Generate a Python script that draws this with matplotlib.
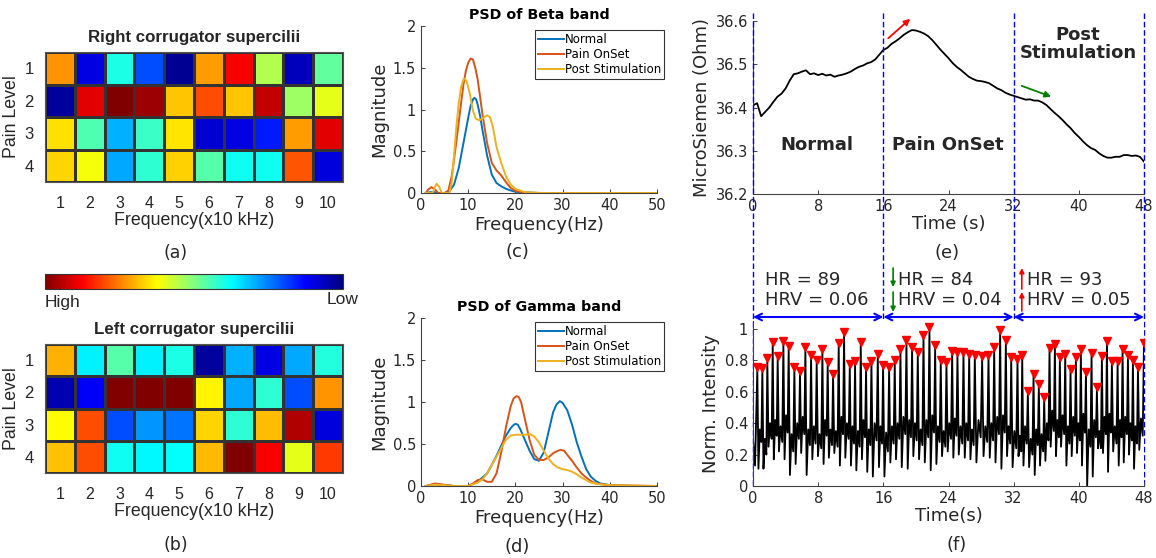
import numpy as np
import matplotlib
matplotlib.use('Agg')
import matplotlib.pyplot as plt
from matplotlib.cm import ScalarMappable
from matplotlib.colors import Normalize, LinearSegmentedColormap
from matplotlib.transforms import blended_transform_factory

# ---- heatmaps (position on jet scale: 1 = High / dark red, 0 = Low / dark blue)
right_vals = [
    [0.73, 0.10, 0.40, 0.20, 0.02, 0.72, 0.88, 0.55, 0.06, 0.47],
    [0.03, 0.90, 1.00, 0.97, 0.68, 0.80, 0.68, 0.93, 0.53, 0.60],
    [0.655, 0.45, 0.30, 0.43, 0.65, 0.08, 0.10, 0.15, 0.72, 0.90],
    [0.665, 0.615, 0.29, 0.42, 0.67, 0.46, 0.39, 0.39, 0.79, 0.09],
]
left_vals = [
    [0.70, 0.36, 0.46, 0.36, 0.40, 0.03, 0.30, 0.10, 0.29, 0.41],
    [0.05, 0.12, 1.00, 1.00, 1.00, 0.635, 0.29, 0.42, 0.20, 0.73],
    [0.625, 0.80, 0.20, 0.27, 0.24, 0.665, 0.42, 0.69, 0.95, 0.09],
    [0.685, 0.80, 0.39, 0.37, 0.375, 0.695, 1.00, 0.88, 0.60, 0.82],
]
freq_labels = ['1', '2', '3', '4', '5', '6', '7', '8', '9', '10']
pain_labels = ['1', '2', '3', '4']

# ---- PSD curves
beta_normal_f = [1, 2, 3, 4, 5, 6, 7, 8, 9, 10, 10.5, 11, 11.3, 11.7, 12, 12.5, 13, 14, 15, 16, 17, 18, 19, 20, 22, 25, 50]
beta_normal_v = [0, 0.01, 0.01, 0, 0, 0.02, 0.1, 0.3, 0.6, 0.9, 1.04, 1.12, 1.14, 1.12, 1.06, 0.93, 0.76, 0.45, 0.22, 0.12, 0.08, 0.05, 0.03, 0.015, 0.005, 0, 0]
beta_pain_f = [1, 1.5, 2.2, 3, 3.6, 5, 5.8, 6.5, 7, 7.5, 8, 8.5, 9, 9.5, 10, 10.5, 11, 11.5, 12, 12.5, 13, 14, 15, 16, 17, 18, 19, 20, 22, 26, 50]
beta_pain_v = [0, 0.04, 0.07, 0.04, 0, 0, 0.03, 0.2, 0.4, 0.62, 0.85, 1.08, 1.3, 1.46, 1.56, 1.61, 1.6, 1.5, 1.36, 1.16, 0.95, 0.6, 0.36, 0.27, 0.21, 0.13, 0.06, 0.025, 0.005, 0, 0]
beta_post_f = [1, 2.5, 3, 3.3, 3.8, 4.4, 6, 6.5, 7, 7.5, 8, 8.5, 9, 9.3, 9.7, 10.3, 11, 11.6, 12.4, 13.2, 14, 14.6, 15.2, 16, 17, 18, 19, 20, 22, 25, 50]
beta_post_v = [0, 0, 0.08, 0.11, 0.08, 0, 0, 0.12, 0.45, 0.8, 1.08, 1.27, 1.36, 1.37, 1.33, 1.2, 0.99, 0.89, 0.87, 0.9, 0.93, 0.91, 0.8, 0.55, 0.36, 0.2, 0.1, 0.05, 0.01, 0, 0]

gamma_normal_f = [1, 3, 5, 7, 10, 12, 14, 15, 16, 17, 18, 19, 19.5, 20, 20.5, 21, 22, 23, 24, 25, 26, 27, 28, 28.7, 29.4, 30, 31, 32, 33, 34, 35, 36, 37, 38, 40, 45, 50]
gamma_normal_v = [0, 0.02, 0.01, 0, 0, 0.05, 0.15, 0.25, 0.36, 0.48, 0.6, 0.69, 0.72, 0.74, 0.73, 0.68, 0.55, 0.42, 0.32, 0.3, 0.4, 0.64, 0.88, 0.97, 1.01, 0.99, 0.9, 0.73, 0.52, 0.35, 0.2, 0.11, 0.06, 0.03, 0.01, 0, 0]
gamma_pain_f = [1, 3, 5, 7, 10, 11, 12, 13, 14, 15, 16, 17, 18, 19, 19.6, 20.2, 20.7, 21.2, 22, 23, 24, 25, 26, 27, 28, 29, 29.6, 30.3, 31, 32, 33, 34, 35, 36, 37, 40, 45, 50]
gamma_pain_v = [0, 0.03, 0.015, 0, 0, 0.03, 0.07, 0.08, 0.05, 0.05, 0.15, 0.4, 0.7, 0.95, 1.04, 1.07, 1.06, 1.0, 0.8, 0.55, 0.37, 0.31, 0.31, 0.34, 0.39, 0.42, 0.43, 0.42, 0.37, 0.3, 0.22, 0.15, 0.1, 0.06, 0.03, 0.01, 0.005, 0]
gamma_post_f = [1, 3, 5, 7, 10, 12, 13, 14, 15, 16, 17, 18, 19, 20, 21, 22, 23, 24, 25, 26, 27, 28, 29, 30, 31, 32, 33, 34, 35, 36, 37, 38, 40, 45, 50]
gamma_post_v = [0, 0.015, 0.01, 0, 0, 0.04, 0.08, 0.15, 0.25, 0.35, 0.45, 0.55, 0.6, 0.61, 0.61, 0.61, 0.62, 0.59, 0.52, 0.42, 0.33, 0.26, 0.22, 0.2, 0.19, 0.17, 0.14, 0.1, 0.07, 0.04, 0.03, 0.02, 0.01, 0.005, 0]
psd_labels = ['Normal', 'Pain OnSet', 'Post Stimulation']

# ---- skin response (every 0.5 s)
gsr_t = np.arange(0, 48.5, 0.5)
gsr_v = [36.405, 36.41, 36.38, 36.39, 36.40, 36.413, 36.425, 36.432, 36.444, 36.462,
         36.477, 36.479, 36.483, 36.486, 36.477, 36.479, 36.475, 36.478, 36.474, 36.476,
         36.471, 36.474, 36.476, 36.479, 36.483, 36.489, 36.494, 36.497, 36.502, 36.505,
         36.511, 36.522, 36.533, 36.538, 36.547, 36.553, 36.56, 36.568, 36.574, 36.579,
         36.578, 36.575, 36.571, 36.565, 36.556, 36.545, 36.534, 36.524, 36.514, 36.503,
         36.494, 36.487, 36.479, 36.471, 36.466, 36.462, 36.461, 36.459, 36.456, 36.450,
         36.444, 36.440, 36.434, 36.430, 36.427, 36.424, 36.421, 36.418, 36.419, 36.416,
         36.416, 36.412, 36.406, 36.397, 36.388, 36.380, 36.371, 36.361, 36.352, 36.341,
         36.332, 36.322, 36.313, 36.306, 36.302, 36.294, 36.288, 36.284, 36.284, 36.286,
         36.286, 36.290, 36.29, 36.288, 36.289, 36.286, 36.275]
phase_names = ['Normal', 'Pain OnSet', 'Post\nStimulation']
phase_edges = [0, 16, 32, 48]

# ---- PPG beats
peak_t = [0.53, 1.15, 1.76, 2.42, 3.03, 3.73, 4.38, 5.08, 5.77, 6.43, 7.13, 7.82, 8.52, 9.17, 9.83, 10.52,
          11.18, 11.88, 12.53, 13.23, 13.88, 14.54, 15.32, 15.97,
          16.71, 17.40, 18.10, 18.84, 19.53, 20.23, 20.93, 21.66, 22.36, 23.05, 23.75, 24.45, 25.10,
          25.84, 26.54, 27.23, 28.13, 28.91, 29.61, 30.34, 31.04, 31.70,
          32.47, 33.05, 33.74, 34.44, 35.09, 35.75, 36.40, 37.06, 37.67, 38.33, 38.98, 39.64, 40.25,
          40.87, 41.56, 42.22, 42.83, 43.45, 44.06, 44.76, 45.37, 46.03, 46.64, 47.26, 47.99]
peak_v = [0.743, 0.739, 0.803, 0.904, 0.813, 0.909, 0.877, 0.743, 0.718, 0.875, 0.820, 0.788, 0.860, 0.777,
          0.701, 0.896, 0.966, 0.766, 0.786, 0.902, 0.743, 0.786, 0.830, 0.760,
          0.743, 0.788, 0.862, 0.917, 0.875, 0.839, 0.951, 0.998, 0.885, 0.788, 0.777, 0.849, 0.839,
          0.841, 0.828, 0.824, 0.813, 0.820, 0.873, 0.983, 0.915, 0.807,
          0.798, 0.822, 0.594, 0.703, 0.637, 0.552, 0.866, 0.892, 0.807, 0.828, 0.732, 0.811, 0.858,
          0.715, 0.832, 0.616, 0.817, 0.911, 0.781, 0.781, 0.862, 0.820, 0.788, 0.745, 0.898]
trough_v = [0.11, 0.11, 0.25, 0.17, 0.22, 0.17, 0.07, 0.14, 0.21, 0.07, 0.17, 0.19, 0.14, 0.18, 0.21, 0.13,
            0.18, 0.13, 0.10, 0.17, 0.09, 0.06, 0.12, 0.06,
            0.15, 0.17, 0.12, 0.11, 0.19, 0.17, 0.15, 0.10, 0.14, 0.19, 0.22, 0.18, 0.20, 0.18, 0.17,
            0.15, 0.19, 0.18, 0.15, 0.11, 0.19, 0.12,
            0.19, 0.13, 0.12, 0.07, 0.13, 0.16, 0.25, 0.19, 0.25, 0.13, 0.19, 0.21, 0.13, 0.0, 0.06,
            0.24, 0.21, 0.09, 0.22, 0.13, 0.15, 0.20, 0.11, 0.23]
bump_v = [0.36, 0.30, 0.40, 0.42, 0.38, 0.45, 0.33, 0.40, 0.44, 0.36, 0.38, 0.33, 0.42, 0.36, 0.35, 0.44,
          0.40, 0.38, 0.35, 0.42, 0.36, 0.40, 0.38, 0.34,
          0.38, 0.40, 0.44, 0.42, 0.40, 0.36, 0.42, 0.45, 0.38, 0.35, 0.40, 0.43, 0.38, 0.40, 0.36,
          0.42, 0.38, 0.40, 0.44, 0.45, 0.38, 0.35,
          0.32, 0.38, 0.30, 0.36, 0.33, 0.40, 0.48, 0.42, 0.45, 0.38, 0.44, 0.40, 0.46, 0.36, 0.42,
          0.35, 0.44, 0.46, 0.38, 0.42, 0.44, 0.40, 0.38, 0.43]
dip_v = [0.28, 0.20, 0.30, 0.32, 0.28, 0.34, 0.22, 0.30, 0.33, 0.26, 0.27, 0.24, 0.32, 0.26, 0.25, 0.33,
         0.30, 0.27, 0.25, 0.31, 0.26, 0.29, 0.27, 0.22,
         0.27, 0.30, 0.33, 0.31, 0.29, 0.26, 0.31, 0.34, 0.28, 0.25, 0.30, 0.32, 0.27, 0.29, 0.26,
         0.31, 0.28, 0.29, 0.33, 0.34, 0.27, 0.24,
         0.22, 0.27, 0.20, 0.26, 0.22, 0.29, 0.35, 0.31, 0.33, 0.27, 0.32, 0.29, 0.34, 0.25, 0.31,
         0.24, 0.33, 0.34, 0.27, 0.31, 0.33, 0.29, 0.27, 0.32]
lead_t = [0.0, 0.25]
lead_v = [0.30, 0.13]
hr_text = ['HR = 89\nHRV = 0.06', 'HR = 84\nHRV = 0.04', 'HR = 93\nHRV = 0.05']

W, H = 1156, 558
fig = plt.figure(figsize=(W / 100, H / 100), dpi=100)
fig.patch.set_facecolor('white')

TXT = '#262626'
SP = '#404040'
ARIAL = 'Liberation Sans'

# MATLAB-style jet
mjet = LinearSegmentedColormap.from_list(
    'mjet', [(0, (0, 0, 0.5)), (0.125, (0, 0, 1)), (0.375, (0, 1, 1)),
             (0.625, (1, 1, 0)), (0.875, (1, 0, 0)), (1, (0.5, 0, 0))])


def px_axes(left, top, right, bottom):
    return fig.add_axes([left / W, 1 - bottom / H, (right - left) / W, (bottom - top) / H])


def fy(py):
    return 1 - py / H


def style_open(ax, fs=10.5):
    for s in ['top', 'right']:
        ax.spines[s].set_visible(False)
    for s in ['left', 'bottom']:
        ax.spines[s].set_color(SP)
        ax.spines[s].set_linewidth(0.8)
    ax.tick_params(direction='in', length=3, width=0.7, colors=SP, labelcolor=TXT, labelsize=fs)


# ---------------- heatmaps
def draw_heat(ax, vals, title):
    ax.pcolormesh(np.arange(0.5, 11), np.arange(0.5, 5), np.array(vals), cmap=mjet,
                  vmin=0, vmax=1, edgecolors='#333333', linewidth=0.8)
    ax.set_xlim(0.5, 10.5)
    ax.set_ylim(4.5, 0.5)
    ax.set_xticks(range(1, 11))
    ax.set_xticklabels(freq_labels, family=ARIAL, fontsize=11.5, color=TXT)
    ax.set_yticks(range(1, 5))
    ax.set_yticklabels(pain_labels, family=ARIAL, fontsize=12, color=TXT)
    ax.tick_params(length=0, pad=10)
    ax.tick_params(axis='y', pad=8)
    for s in ax.spines.values():
        s.set_color('#555555')
    ax.set_title(title, family=ARIAL, fontweight='bold', fontsize=12.2, color=TXT, pad=7)
    ax.set_xlabel('Frequency(x10 kHz)', family=ARIAL, fontsize=12.8, color=TXT, labelpad=1)
    ax.set_ylabel('Pain Level', family=ARIAL, fontsize=12.8, color=TXT, labelpad=3)


ax_a = px_axes(45, 52, 343, 182)
draw_heat(ax_a, right_vals, 'Right corrugator supercilii')
ax_b = px_axes(45, 344, 343, 473)
draw_heat(ax_b, left_vals, 'Left corrugator supercilii')

cax = px_axes(45, 274, 343, 289)
cb = fig.colorbar(ScalarMappable(Normalize(0, 1), mjet), cax=cax, orientation='horizontal')
cb.set_ticks([])
cax.invert_xaxis()
cb.outline.set_edgecolor('#333333')
fig.text(45 / W, fy(302), 'High', family=ARIAL, fontsize=12.5, color=TXT, ha='left', va='center')
fig.text(358 / W, fy(300), 'Low', family=ARIAL, fontsize=12.5, color=TXT, ha='right', va='center')

fig.text(176 / W, fy(253), '(a)', fontsize=12.5, color=TXT, ha='center', va='center')
fig.text(176 / W, fy(545), '(b)', fontsize=12.5, color=TXT, ha='center', va='center')

# ---------------- PSD panels
psd_colors = ['#0072BD', '#D95319', '#EDB120']


def draw_psd(ax, curves, title):
    for (f, v), c, lab in zip(curves, psd_colors, psd_labels):
        ax.plot(f, v, color=c, lw=1.4, label=lab)
    ax.set_xlim(0, 50)
    ax.set_ylim(0, 2)
    ax.set_xticks([0, 10, 20, 30, 40, 50])
    ax.set_yticks([0, 0.5, 1, 1.5, 2])
    ax.set_yticklabels(['0', '0.5', '1', '1.5', '2'])
    style_open(ax, fs=10.5)
    ax.set_title(title, fontweight='bold', fontsize=10.3, color='black', pad=5)
    ax.set_xlabel('Frequency(Hz)', fontsize=13, color=TXT, labelpad=2)
    ax.set_ylabel('Magnitude', fontsize=13, color=TXT, labelpad=3)
    leg = ax.legend(loc='upper right', bbox_to_anchor=(1.03, 0.975), fontsize=8.5, frameon=True,
                    fancybox=False, edgecolor='black', borderaxespad=0, handlelength=2.2,
                    handletextpad=0.1, labelspacing=0.15, borderpad=0.25)
    leg.get_frame().set_linewidth(0.8)


ax_c = px_axes(421, 26, 657, 193)
draw_psd(ax_c, [(beta_normal_f, beta_normal_v), (beta_pain_f, beta_pain_v), (beta_post_f, beta_post_v)],
         'PSD of Beta band')
ax_d = px_axes(421, 318, 657, 486)
draw_psd(ax_d, [(gamma_normal_f, gamma_normal_v), (gamma_pain_f, gamma_pain_v), (gamma_post_f, gamma_post_v)],
         'PSD of Gamma band')
fig.text(517 / W, fy(252), '(c)', fontsize=13, color=TXT, ha='center', va='center')
fig.text(517 / W, fy(547), '(d)', fontsize=13, color=TXT, ha='center', va='center')

# ---------------- (e) skin response
ax_e = px_axes(753, 21, 1144, 194)
ax_e.plot(gsr_t, gsr_v, color='black', lw=1.3)
ax_e.set_xlim(0, 48)
ax_e.set_ylim(36.2, 36.6)
ax_e.set_xticks([0, 8, 16, 24, 32, 40, 48])
ax_e.set_yticks([36.2, 36.3, 36.4, 36.5, 36.6])
style_open(ax_e, fs=10.5)
ax_e.set_xlabel('Time (s)', fontsize=13, color=TXT, labelpad=1)
ax_e.set_ylabel('MicroSiemen (Ohm)', fontsize=13, color=TXT, labelpad=3)
for name, x0, x1, yy in zip(phase_names, phase_edges[:-1], phase_edges[1:], [36.313, 36.313, 36.547]):
    ax_e.text((x0 + x1) / 2 - 0.1, yy, name, fontsize=13, fontweight='bold', color=TXT,
              ha='center', va='center', linespacing=1.0)
ax_e.annotate('', xy=(19.3, 36.605), xytext=(16.6, 36.56), annotation_clip=False,
              arrowprops=dict(arrowstyle='-|>', color='red', lw=1.3, mutation_scale=9, shrinkA=0, shrinkB=0))
ax_e.annotate('', xy=(36.6, 36.425), xytext=(33.0, 36.45), annotation_clip=False,
              arrowprops=dict(arrowstyle='-|>', color='green', lw=1.3, mutation_scale=9, shrinkA=0, shrinkB=0))
fig.text(947 / W, fy(253), '(e)', fontsize=13, color=TXT, ha='center', va='center')

# ---------------- (f) PPG
ppg_t = list(lead_t)
ppg_v = list(lead_v)
for i in range(len(peak_t)):
    ppg_t.append(peak_t[i])
    ppg_v.append(peak_v[i])
    if i < len(peak_t) - 1:
        dt = peak_t[i + 1] - peak_t[i]
        for frac, val in zip([0.22, 0.5, 0.8], [trough_v[i], bump_v[i], dip_v[i]]):
            ppg_t.append(peak_t[i] + frac * dt)
            ppg_v.append(val)

ax_f = px_axes(753, 321, 1144, 486)
ax_f.plot(ppg_t, ppg_v, color='black', lw=1.3)
ax_f.plot(peak_t, np.array(peak_v) + 0.012, 'v', color='red', ms=6, mec='red')
ax_f.set_xlim(0, 48)
ax_f.set_ylim(0, 1.05)
ax_f.set_xticks([0, 8, 16, 24, 32, 40, 48])
ax_f.set_yticks([0, 0.2, 0.4, 0.6, 0.8, 1])
ax_f.set_yticklabels(['0', '0.2', '0.4', '0.6', '0.8', '1'])
style_open(ax_f, fs=10.5)
ax_f.set_xlabel('Time(s)', fontsize=13, color=TXT, labelpad=1)
ax_f.set_ylabel('Norm. Intensity', fontsize=13, color=TXT, labelpad=3)
fig.text(957 / W, fy(545), '(f)', fontsize=13, color=TXT, ha='center', va='center')

# phase boundaries across (e) and (f)
trans_e = blended_transform_factory(ax_e.transData, fig.transFigure)
for x in phase_edges:
    ax_e.plot([x, x], [fy(13), fy(486)], transform=trans_e, color='blue', lw=1.0,
              ls=(0, (4, 2)), clip_on=False, zorder=5)

trans_f = blended_transform_factory(ax_f.transData, fig.transFigure)
for x0, x1, txt, tx in zip(phase_edges[:-1], phase_edges[1:], hr_text, [1.47, 17.8, 33.6]):
    ax_f.annotate('', xy=(x1, fy(317)), xytext=(x0, fy(317)), xycoords=trans_f, textcoords=trans_f,
                  annotation_clip=False,
                  arrowprops=dict(arrowstyle='<->', color='blue', lw=1.5, mutation_scale=12,
                                  shrinkA=0, shrinkB=0))
    ax_f.text(tx, fy(290), txt, transform=trans_f, fontsize=13, color=TXT, ha='left', va='center',
              linespacing=1.15)

for ys, ye in [(268, 287), (292, 312)]:
    ax_f.annotate('', xy=(17.2, fy(ye)), xytext=(17.2, fy(ys)), xycoords=trans_f, textcoords=trans_f,
                  annotation_clip=False,
                  arrowprops=dict(arrowstyle='-|>', color='green', lw=1.2, mutation_scale=7,
                                  shrinkA=0, shrinkB=0))
for ys, ye in [(289, 268), (311, 292)]:
    ax_f.annotate('', xy=(33.0, fy(ye)), xytext=(33.0, fy(ys)), xycoords=trans_f, textcoords=trans_f,
                  annotation_clip=False,
                  arrowprops=dict(arrowstyle='-|>', color='red', lw=1.2, mutation_scale=7,
                                  shrinkA=0, shrinkB=0))

fig.savefig('out.png', dpi=100, facecolor='white')
